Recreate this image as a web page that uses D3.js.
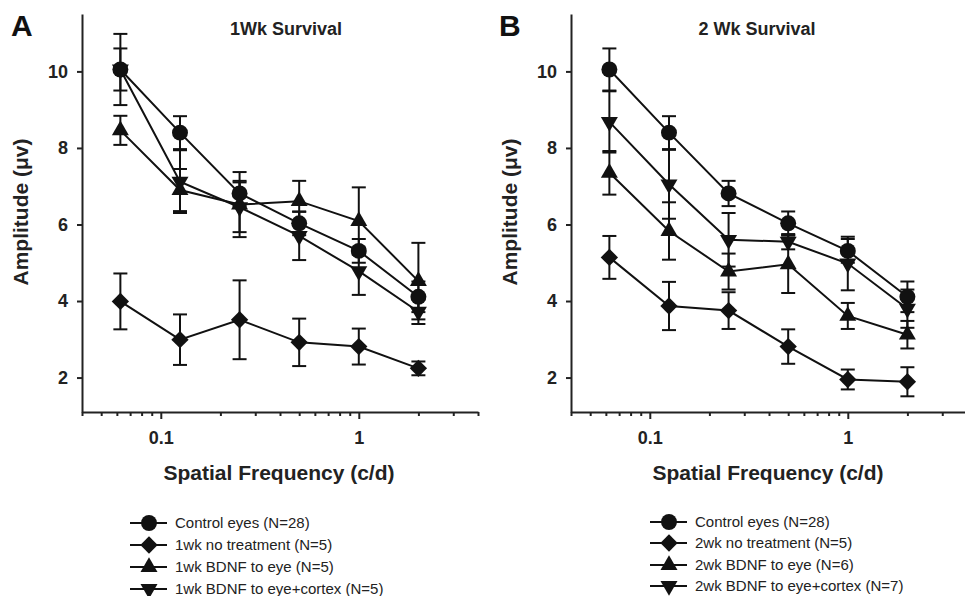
<!DOCTYPE html>
<html>
<head>
<meta charset="utf-8">
<script src="https://cdn.jsdelivr.net/npm/d3@7"></script>
<style>
  body { margin: 0; background: #fff; }
  svg { display: block; font-family: Arial, "Liberation Sans", sans-serif; }
</style>
</head>
<body>
<svg id="chart"></svg>
<script>
// spatial frequencies (c/d)
var freqs = [0.0625, 0.125, 0.25, 0.5, 1, 2];

// control eyes, same in both panels
var controlMean = [10.05, 8.40, 6.81, 6.03, 5.31, 4.11];
var controlErr  = [0.55, 0.43, 0.33, 0.31, 0.31, 0.40];

// 1 week survival
var wk1NoTxMean   = [3.99, 2.99, 3.51, 2.92, 2.81, 2.24];
var wk1NoTxErr    = [0.73, 0.66, 1.03, 0.62, 0.47, 0.18];
var wk1EyeMean    = [8.46, 6.90, 6.52, 6.61, 6.09, 4.52];
var wk1EyeErr     = [0.38, 0.55, 0.85, 0.53, 0.88, 1.00];
var wk1CortexMean = [10.05, 7.12, 6.45, 5.70, 4.78, 3.72];
var wk1CortexErr  = [0.93, 0.82, 0.65, 0.63, 0.62, 0.32];

// 2 week survival
var wk2NoTxMean   = [5.14, 3.87, 3.75, 2.81, 1.95, 1.89];
var wk2NoTxErr    = [0.56, 0.63, 0.48, 0.45, 0.26, 0.38];
var wk2EyeMean    = [7.35, 5.83, 4.77, 4.96, 3.61, 3.12];
var wk2EyeErr     = [0.57, 0.75, 0.47, 0.75, 0.34, 0.36];
var wk2CortexMean = [8.68, 7.05, 5.60, 5.55, 4.98, 3.80];
var wk2CortexErr  = [0.80, 0.90, 0.70, 0.20, 0.70, 0.50];

// axes
var yTicks = [2, 4, 6, 8, 10];
var xMajorTicks = [0.1, 1];
var xMinorTicks = [0.04, 0.05, 0.06, 0.07, 0.08, 0.09, 0.2, 0.3, 0.4, 0.5, 0.6, 0.7, 0.8, 0.9, 2, 3, 4];

var legend1 = ["Control eyes (N=28)", "1wk no treatment (N=5)", "1wk BDNF to eye (N=5)", "1wk BDNF to eye+cortex (N=5)"];
var legend2 = ["Control eyes (N=28)", "2wk no treatment (N=5)", "2wk BDNF to eye (N=6)", "2wk BDNF to eye+cortex (N=7)"];

var markers = ["circle", "diamond", "up", "down"];

var width = 965, height = 596;
var svg = d3.select("#chart").attr("width", width).attr("height", height);

function symbolPath(kind) {
  if (kind == "circle") return d3.symbol().type(d3.symbolCircle).size(200)();
  if (kind == "diamond") return d3.symbol().type(d3.symbolSquare).size(150)();
  return d3.symbol().type(d3.symbolTriangle).size(125)();
}
function symbolRotate(kind) {
  if (kind == "diamond") return 45;
  if (kind == "down") return 180;
  return 0;
}

function drawPanel(p) {
  var x = d3.scaleLog().domain([0.04, 4]).range([p.left, p.left + 396]);
  var y = d3.scaleLinear().domain([1.1, 11.5]).range([412, 14]);
  var g = svg.append("g");

  // y axis
  var ya = g.append("g")
    .attr("transform", "translate(" + p.left + ",0)")
    .call(d3.axisLeft(y).tickValues(yTicks).tickSize(5).tickSizeOuter(0).tickPadding(9).tickFormat(d3.format("d")));
  ya.selectAll("text").style("font-size", "18px").style("font-weight", "bold").attr("fill", "#222");

  // x axis, minor then major ticks
  var xa = g.append("g")
    .attr("transform", "translate(0,412)")
    .call(d3.axisBottom(x).tickValues(xMinorTicks).tickSize(4).tickSizeOuter(0).tickFormat(""));
  var xb = g.append("g")
    .attr("transform", "translate(0,412)")
    .call(d3.axisBottom(x).tickValues(xMajorTicks).tickSize(7).tickSizeOuter(0).tickPadding(12).tickFormat(d3.format("")));
  xb.select(".domain").remove();
  xb.selectAll("text").style("font-size", "18px").style("font-weight", "bold").attr("fill", "#222");
  g.selectAll(".domain, .tick line").attr("stroke", "#222").attr("stroke-width", 2);

  // titles and labels
  g.append("text").attr("x", p.letterX).attr("y", 36)
    .style("font-size", "30px").style("font-weight", "bold").attr("fill", "#111").text(p.letter);
  g.append("text").attr("x", p.titleX).attr("y", 35).attr("text-anchor", "middle")
    .style("font-size", "18px").style("font-weight", "bold").attr("fill", "#222").text(p.title);
  g.append("text").attr("transform", "translate(" + (p.left - 54) + ",212) rotate(-90)")
    .attr("text-anchor", "middle").style("font-size", "21px").style("font-weight", "bold").attr("fill", "#222")
    .text("Amplitude (\u03bcv)");
  g.append("text").attr("x", p.left + 197).attr("y", 480).attr("text-anchor", "middle")
    .style("font-size", "21px").style("font-weight", "bold").attr("fill", "#222")
    .text("Spatial Frequency (c/d)");

  var line = d3.line().x(function (d) { return x(d.f); }).y(function (d) { return y(d.m); });

  p.series.forEach(function (s, si) {
    var pts = freqs.map(function (f, i) { return { f: f, m: s.mean[i], e: s.err[i] }; });
    var sg = g.append("g");
    sg.append("path").datum(pts).attr("d", line)
      .attr("fill", "none").attr("stroke", "#111").attr("stroke-width", 2);
    // error bars
    var eb = sg.selectAll(".eb").data(pts).enter().append("g");
    eb.append("line")
      .attr("x1", function (d) { return x(d.f); }).attr("x2", function (d) { return x(d.f); })
      .attr("y1", function (d) { return y(d.m + d.e); }).attr("y2", function (d) { return y(d.m - d.e); });
    eb.append("line")
      .attr("x1", function (d) { return x(d.f) - 7; }).attr("x2", function (d) { return x(d.f) + 7; })
      .attr("y1", function (d) { return y(d.m + d.e); }).attr("y2", function (d) { return y(d.m + d.e); });
    eb.append("line")
      .attr("x1", function (d) { return x(d.f) - 7; }).attr("x2", function (d) { return x(d.f) + 7; })
      .attr("y1", function (d) { return y(d.m - d.e); }).attr("y2", function (d) { return y(d.m - d.e); });
    eb.selectAll("line").attr("stroke", "#111").attr("stroke-width", 2);
  });

  // markers on top
  p.series.forEach(function (s, si) {
    var kind = markers[si];
    g.append("g").selectAll("path").data(freqs).enter().append("path")
      .attr("d", symbolPath(kind))
      .attr("transform", function (f, i) {
        return "translate(" + x(f) + "," + y(s.mean[i]) + ") rotate(" + symbolRotate(kind) + ")";
      })
      .attr("fill", "#111");
  });

  // legend
  var lg = g.append("g");
  p.legend.forEach(function (label, i) {
    var ly = p.legendY[i];
    lg.append("line").attr("x1", p.legendX).attr("x2", p.legendX + 37)
      .attr("y1", ly).attr("y2", ly).attr("stroke", "#111").attr("stroke-width", 2);
    lg.append("path").attr("d", symbolPath(markers[i]))
      .attr("transform", "translate(" + (p.legendX + 19) + "," + ly + ") rotate(" + symbolRotate(markers[i]) + ")")
      .attr("fill", "#111");
    lg.append("text").attr("x", p.legendX + 45).attr("y", ly).attr("dy", "0.36em")
      .style("font-size", "15px").attr("fill", "#222").text(label);
  });
}

drawPanel({
  left: 82, letter: "A", letterX: 11, title: "1Wk Survival", titleX: 286,
  series: [
    { mean: controlMean, err: controlErr },
    { mean: wk1NoTxMean, err: wk1NoTxErr },
    { mean: wk1EyeMean, err: wk1EyeErr },
    { mean: wk1CortexMean, err: wk1CortexErr }
  ],
  legend: legend1, legendX: 130, legendY: [523, 545, 567, 589]
});

drawPanel({
  left: 571, letter: "B", letterX: 499, title: "2 Wk Survival", titleX: 757,
  series: [
    { mean: controlMean, err: controlErr },
    { mean: wk2NoTxMean, err: wk2NoTxErr },
    { mean: wk2EyeMean, err: wk2EyeErr },
    { mean: wk2CortexMean, err: wk2CortexErr }
  ],
  legend: legend2, legendX: 650, legendY: [522, 543, 565, 586]
});
</script>
</body>
</html>
